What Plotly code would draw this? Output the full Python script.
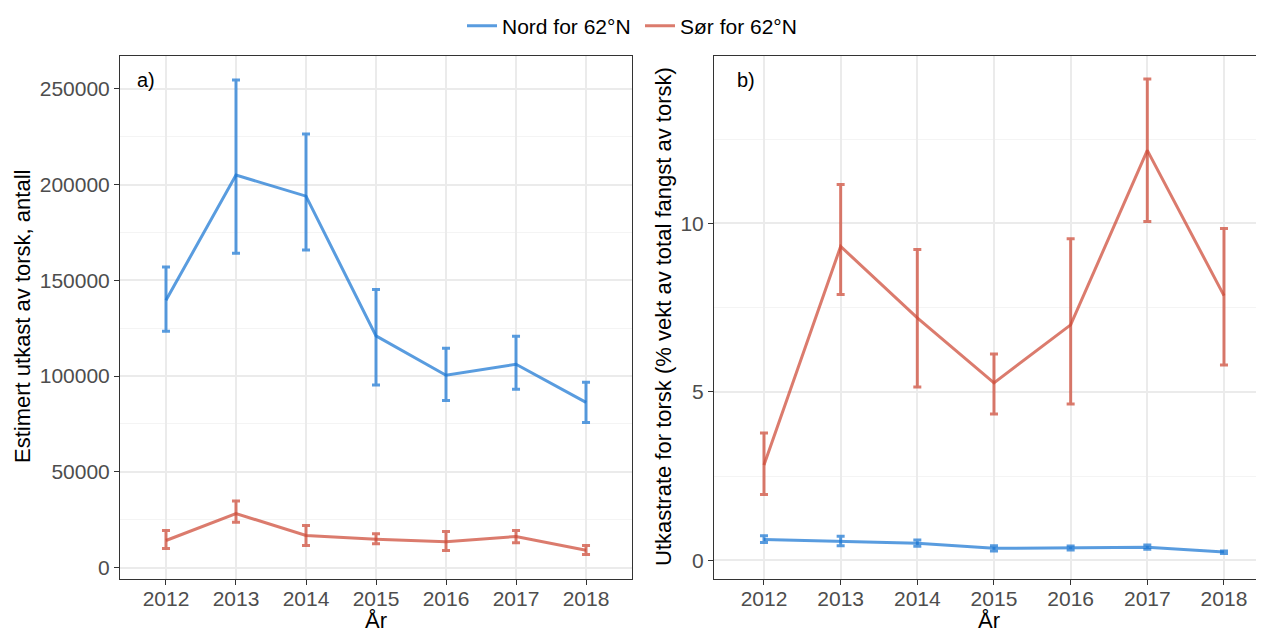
import plotly.graph_objects as go

years = [2012, 2013, 2014, 2015, 2016, 2017, 2018]

# Panel a: estimated discard of cod, number
nord_a = [139600, 205000, 194000, 121000, 100400, 106200, 86300]
nord_a_hi = [157000, 254700, 226500, 145200, 114500, 120800, 96800]
nord_a_lo = [123400, 164200, 165800, 95300, 87300, 93100, 75800]
sor_a = [14100, 28200, 16700, 14800, 13400, 16200, 9000]
sor_a_hi = [19400, 34700, 22000, 17600, 18800, 19400, 11500]
sor_a_lo = [9900, 23700, 11500, 12400, 8900, 12900, 6800]

# Panel b: discard rate (% weight of total catch)
nord_b = [0.62, 0.57, 0.51, 0.36, 0.37, 0.39, 0.25]
nord_b_hi = [0.73, 0.72, 0.61, 0.44, 0.43, 0.46, 0.28]
nord_b_lo = [0.53, 0.44, 0.42, 0.28, 0.31, 0.33, 0.21]
sor_b = [2.83, 9.32, 7.20, 5.27, 6.99, 12.17, 7.86]
sor_b_hi = [3.78, 11.16, 9.23, 6.13, 9.55, 14.29, 9.85]
sor_b_lo = [1.96, 7.89, 5.15, 4.35, 4.64, 10.06, 5.80]

series_names = ["Nord for 62°N", "Sør for 62°N"]
BLUE = "rgba(25,118,210,0.72)"
RED = "rgba(205,72,52,0.72)"

FONT = "Liberation Sans, Arial, sans-serif"

# page is offset by the browser's 8px body margin
W, H = 1256, 624
ML, MT, MB = 112, 48, 53
PW, PH = W - ML, H - MT - MB

fig = go.Figure()


def add(x, y, hi, lo, color, name, xa, ya, showlegend):
    fig.add_trace(go.Scatter(
        x=x, y=y, mode="lines", name=name, legendgroup=name,
        showlegend=showlegend, xaxis=xa, yaxis=ya,
        line=dict(color=color, width=3),
        error_y=dict(type="data", symmetric=False,
                     array=[h - v for h, v in zip(hi, y)],
                     arrayminus=[v - l for v, l in zip(y, lo)],
                     color=color, thickness=3, width=4),
    ))


add(years, nord_a, nord_a_hi, nord_a_lo, BLUE, series_names[0], "x", "y", True)
add(years, sor_a, sor_a_hi, sor_a_lo, RED, series_names[1], "x", "y", True)
add(years, nord_b, nord_b_hi, nord_b_lo, BLUE, series_names[0], "x2", "y2", False)
add(years, sor_b, sor_b_hi, sor_b_lo, RED, series_names[1], "x2", "y2", False)

tickfont = dict(family=FONT, size=21, color="#4d4d4d")
common_x = dict(tickmode="array", tickvals=years, ticktext=[str(y) for y in years],
                ticks="outside", ticklen=5, tickcolor="#333333", tickwidth=1,
                ticklabelstandoff=-4,
                showgrid=True, gridcolor="#ebebeb", gridwidth=1.5,
                zeroline=False, tickfont=tickfont, showline=True,
                linecolor="#333333", linewidth=1)
common_y = dict(ticks="outside", ticklen=5, tickcolor="#333333", tickwidth=1,
                showgrid=True, gridcolor="#ebebeb", gridwidth=1.5,
                zeroline=False, tickfont=tickfont, showline=True,
                linecolor="#333333", linewidth=1)

fig.update_layout(
    width=W, height=H,
    margin=dict(l=ML, r=0, t=MT, b=MB, autoexpand=False),
    paper_bgcolor="white", plot_bgcolor="white",
    font=dict(family=FONT, color="black"),
    xaxis=dict(domain=[0, 512 / PW], range=[2011.343, 2018.657], mirror=True, **common_x),
    yaxis=dict(range=[-6000, 267200], tickmode="linear", tick0=0, dtick=50000,
               tickformat="d", mirror=True,
               minor=dict(tick0=25000, dtick=50000, showgrid=True,
                          gridcolor="#f4f4f4", gridwidth=1, ticks=""),
               **common_y),
    xaxis2=dict(domain=[(714 - 8 - ML) / PW, 1], range=[2011.348, 2018.522], anchor="y2",
                mirror=True, **common_x),
    yaxis2=dict(range=[-0.55, 14.97], anchor="x2", tickmode="linear", tick0=0, dtick=5,
                mirror=False,
                minor=dict(tick0=2.5, dtick=5, showgrid=True,
                           gridcolor="#f4f4f4", gridwidth=1, ticks=""),
                **common_y),
    legend=dict(orientation="h", xref="container", yref="container",
                x=(640 - 8) / W, y=1 - 18 / H, xanchor="center", yanchor="middle",
                font=dict(family=FONT, size=21, color="black"),
                itemwidth=30, entrywidth=133, entrywidthmode="pixels",
                bgcolor="rgba(0,0,0,0)"),
    showlegend=True,
)

annots = [
    dict(text="Estimert utkast av torsk, antall", x=22, y=317, textangle=-90),
    dict(text="Utkastrate for torsk (% vekt av total fangst av torsk)", x=663, y=317, textangle=-90),
    dict(text="År", x=376, y=620, textangle=0),
    dict(text="År", x=989, y=620, textangle=0),
]
for a in annots:
    fig.add_annotation(text=a["text"], xref="paper", yref="paper",
                       x=(a["x"] - 8 - ML) / PW, y=(H - MB - (a["y"] - 8)) / PH,
                       xanchor="center", yanchor="middle", textangle=a["textangle"],
                       showarrow=False, font=dict(family=FONT, size=22, color="black"))

fig.add_annotation(text="a)", xref="x domain", yref="y domain", x=0.03, y=0.955,
                   xanchor="left", yanchor="middle", showarrow=False,
                   font=dict(family=FONT, size=20, color="black"))
fig.add_annotation(text="b)", xref="x2 domain", yref="y2 domain", x=0.038, y=0.955,
                   xanchor="left", yanchor="middle", showarrow=False,
                   font=dict(family=FONT, size=20, color="black"))

fig.write_html("out.html")
